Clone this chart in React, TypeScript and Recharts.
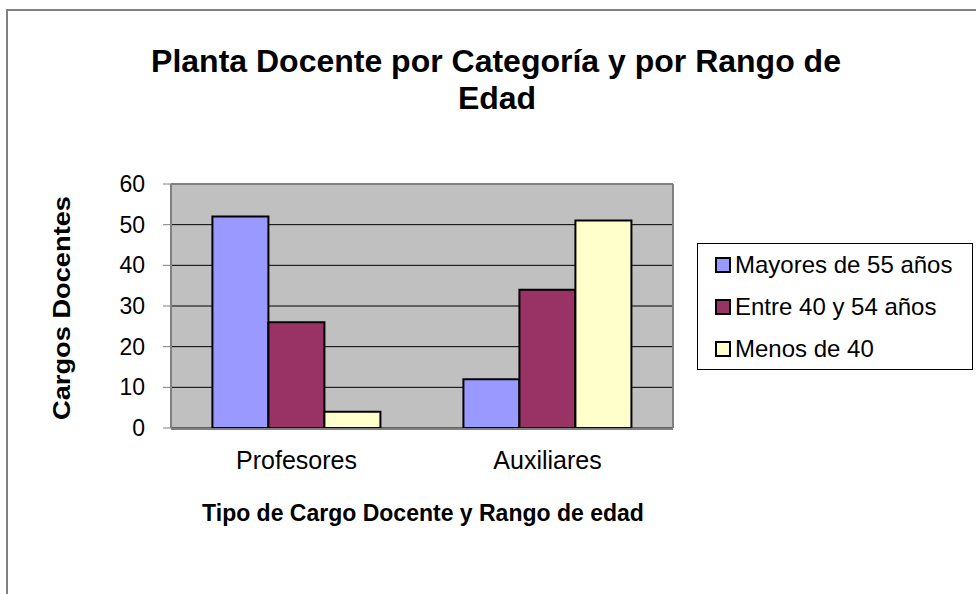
import React from "react";
import {
  BarChart,
  Bar,
  XAxis,
  YAxis,
  CartesianGrid,
  Legend,
} from "recharts";

const FONT = "'Liberation Sans', Arial, sans-serif";

const categories = ["Profesores", "Auxiliares"];
const mayores = [52, 12];
const entre = [26, 34];
const menos = [4, 51];
const yTicks = [0, 10, 20, 30, 40, 50, 60];

const SERIES = [
  { key: "mayores", name: "Mayores de 55 años", color: "#9999FF" },
  { key: "entre", name: "Entre 40 y 54 años", color: "#993366" },
  { key: "menos", name: "Menos de 40", color: "#FFFFCC" },
];

const data = categories.map((c, i) => ({
  cat: c,
  mayores: mayores[i],
  entre: entre[i],
  menos: menos[i],
}));

const LegendBox = () => (
  <div
    style={{
      border: "1px solid #000",
      background: "#fff",
      width: 274,
      height: 125,
      boxSizing: "content-box",
      fontFamily: FONT,
      fontSize: 24,
      color: "#000",
    }}
  >
    {SERIES.map((s) => (
      <div
        key={s.key}
        style={{
          height: 42,
          display: "flex",
          alignItems: "center",
          paddingLeft: 17,
        }}
      >
        <span
          style={{
            display: "inline-block",
            width: 12,
            height: 12,
            border: "2px solid #000",
            background: s.color,
            marginRight: 4,
          }}
        />
        <span>{s.name}</span>
      </div>
    ))}
  </div>
);

export default function App() {
  return (
    <div style={{ position: "absolute", left: 0, top: 0, width: 976, height: 594, background: "#fff" }}>
      <BarChart
        width={976}
        height={594}
        data={data}
        margin={{ top: 184, right: 303, bottom: 125, left: 111 }}
        barCategoryGap="16.5%"
        barGap={0}
      >
        <CartesianGrid vertical={false} stroke="#000" fill="#C0C0C0" fillOpacity={1} />
        <CartesianGrid
          horizontal={false}
          verticalPoints={[673]}
          stroke="#808080"
          strokeWidth={2}
        />
        <CartesianGrid
          vertical={false}
          horizontalPoints={[184]}
          stroke="#808080"
          strokeWidth={2}
        />
        {/* tick marks sit on the category boundaries, like Excel */}
        <XAxis
          xAxisId="bounds"
          type="number"
          domain={[0, 2]}
          ticks={[0, 1, 2]}
          tick={false}
          axisLine={{ stroke: "#808080", strokeWidth: 2 }}
          tickLine={{ stroke: "#000" }}
          tickSize={8}
          height={40}
        />
        <XAxis
          dataKey="cat"
          tickLine={false}
          tickSize={0}
          tickMargin={23}
          axisLine={false}
          tick={{ fill: "#000", fontSize: 25, fontFamily: FONT }}
          height={1}
        />
        <YAxis
          domain={[0, 60]}
          ticks={yTicks}
          width={60}
          tickSize={8}
          tickMargin={18}
          axisLine={{ stroke: "#808080", strokeWidth: 2 }}
          tickLine={{ stroke: "#808080" }}
          tick={{ fill: "#000", fontSize: 23, fontFamily: FONT }}
        />
        <Legend
          layout="vertical"
          align="center"
          verticalAlign="middle"
          content={<LegendBox />}
          wrapperStyle={{ left: 697, top: 243, width: 276, height: 127 }}
        />
        {SERIES.map((s) => (
          <Bar
            key={s.key}
            dataKey={s.key}
            name={s.name}
            fill={s.color}
            stroke="#000"
            strokeWidth={2}
            isAnimationActive={false}
          />
        ))}
      </BarChart>
      <svg
        width={976}
        height={594}
        style={{ position: "absolute", left: 0, top: 0, pointerEvents: "none" }}
      >
        <path d="M7 594 V10 H976" fill="none" stroke="#808080" strokeWidth={2} />
        <g fontFamily={FONT} fontWeight="bold" fill="#000" textAnchor="middle">
          <text x={496} y={72} fontSize={32}>
            Planta Docente por Categoría y por Rango de
          </text>
          <text x={497} y={109} fontSize={32}>
            Edad
          </text>
          <text x={423} y={521} fontSize={23}>
            Tipo de Cargo Docente y Rango de edad
          </text>
          <text
            x={0}
            y={0}
            fontSize={23}
            textLength={224}
            lengthAdjust="spacingAndGlyphs"
            transform="translate(70 308) rotate(-90)"
          >
            Cargos Docentes
          </text>
        </g>
      </svg>
    </div>
  );
}
